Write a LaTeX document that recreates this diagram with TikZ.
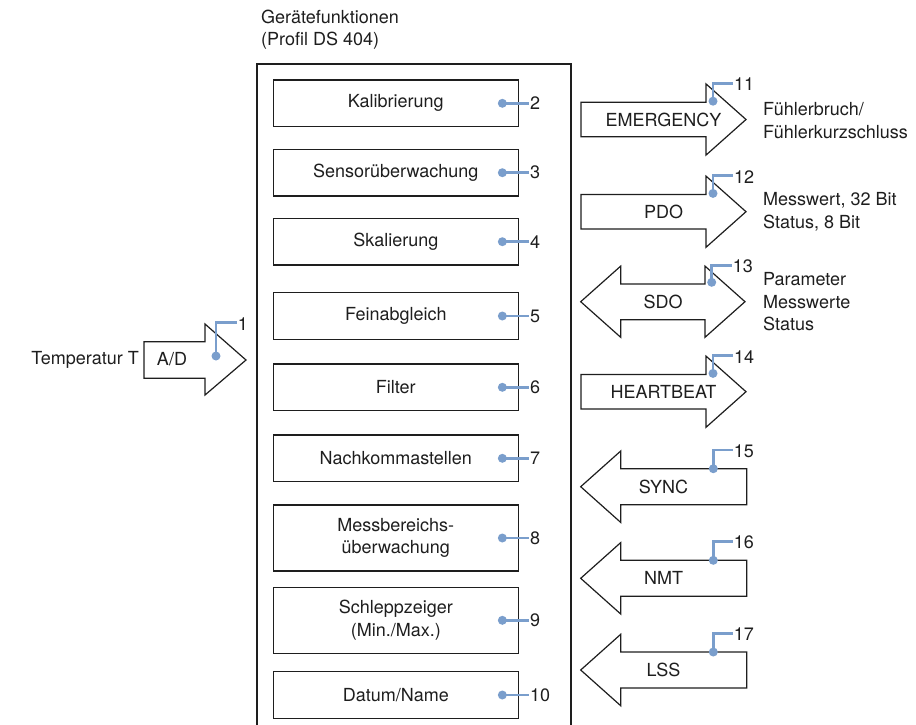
\documentclass[tikz,border=0pt]{standalone}
\usepackage{fontspec}
\setmainfont{TeX Gyre Heros}
\definecolor{cblue}{RGB}{122,158,204}
\definecolor{lk}{RGB}{30,30,30}
\tikzset{
  rarr/.pic={
    \draw[shp] (0,-17.3) -- (125,-17.3) -- (125,-35.6) -- (165,0) -- (125,35.6) -- (125,17.3) -- (0,17.3) -- cycle;
    \coordinate (-dot) at (132,-18.3);
    \coordinate (-end) at (152,-36);
  },
  darr/.pic={
    \draw[shp] (0,0) -- (40,-35.6) -- (40,-17.8) -- (124.3,-17.8) -- (124.3,-35.6) -- (164.3,0) -- (124.3,35.6) -- (124.3,18) -- (40,18) -- (40,35.6) -- cycle;
    \coordinate (-dot) at (131,-19.4);
    \coordinate (-end) at (151,-36);
  },
  larr/.pic={
    \draw[shp] (0,0) -- (40,-35.7) -- (40,-18) -- (166,-18) -- (166,18) -- (40,18) -- (40,35.7) -- cycle;
    \coordinate (-dot) at (132.6,-18);
    \coordinate (-end) at (152,-36.7);
  },
  adarr/.pic={
    \draw[shp] (0,-18.3) -- (61,-18.3) -- (61,-36) -- (102,0) -- (61,35) -- (61,18.3) -- (0,18.3) -- cycle;
    \coordinate (-dot) at (72,-4);
    \coordinate (-end) at (92.7,-37.3);
  }
}
\begin{document}
\begin{tikzpicture}[x=1pt,y=-1pt,
  every node/.style={font=\fontsize{18}{22.5}\selectfont, text=lk},
  fbox/.style={draw=lk, line width=1.3pt, minimum width=245pt, minimum height=46.5pt, inner sep=0pt, align=center},
  tall/.style={minimum height=66pt},
  shp/.style={draw=lk, line width=1.2pt, fill=white, line join=miter},
  frame/.style={draw=lk, line width=1.3pt},
  callout/.style={draw=cblue, line width=2.5pt},
  cdot/.style={fill=cblue},
  num/.style={anchor=west, inner sep=1pt},
  txt/.style={inner sep=0pt, align=left}
]
\useasboundingbox (0,0) rectangle (916,724);

% title
\node[txt, anchor=west] (title) at (261,29.5) {Gerätefunktionen\\(Profil DS 404)};

% outer frame (open at the bottom)
\coordinate (fbl) at (257,730);
\coordinate (ftl) at (257,64);
\coordinate (ftr) at (571,64);
\coordinate (fbr) at (571,730);
\draw[frame] (fbl) -- (ftl) -- (ftr) -- (fbr);

% function boxes
\node[fbox] (b2)  at (395.8,103.3) {Kalibrierung};
\node[fbox] (b3)  at (395.8,172.7) {Sensorüberwachung};
\node[fbox] (b4)  at (395.8,241.7) {Skalierung};
\node[fbox] (b5)  at (395.8,316)   {Feinabgleich};
\node[fbox] (b6)  at (395.8,387.3) {Filter};
\node[fbox] (b7)  at (395.8,458.3) {Nachkommastellen};
\node[fbox,tall] (b8)  at (395.8,538)   {Messbereichs-\\überwachung};
\node[fbox,tall] (b9)  at (395.8,620.3) {Schleppzeiger\\(Min./Max.)};
\node[fbox] (b10) at (395.8,695)   {Datum/Name};

\foreach \b/\n in {b2/2,b3/3,b4/4,b5/5,b6/6,b7/7,b8/8,b9/9,b10/10}{
  \coordinate (\b-dot) at ([xshift=-16.6pt]\b.east);
  \coordinate (\b-end) at ([xshift=10pt]\b.east);
  \draw[callout] (\b-dot) -- (\b-end);
  \fill[cdot] (\b-dot) circle[radius=4.5pt];
  \node[num] (\b-num) at (\b-end) {\n};
}

% input
\node[txt, anchor=east] (temp) at (139,360) {Temperatur T};
\pic (ad) at (144,360) {adarr};
\node (adt) at (172,359) {A/D};
\draw[callout] (ad-dot) |- (ad-end);
\fill[cdot] (ad-dot) circle[radius=4.5pt];
\node[num] (n1) at ([yshift=-1pt]ad-end) {1};

% communication objects
\pic (em) at (581,119.5) {rarr};
\node (emt) at (663.5,119.5) {EMERGENCY};
\pic (pdo) at (581,211.7) {rarr};
\node (pdot) at (663.5,211.7) {PDO};
\pic (sdo) at (580.7,301.7) {darr};
\node (sdot) at (663,301.7) {SDO};
\pic (hb) at (581,391.7) {rarr};
\node (hbt) at (663.5,391.7) {HEARTBEAT};
\pic (sy) at (580.7,486.7) {larr};
\node (syt) at (663.5,486.7) {SYNC};
\pic (nmt) at (580.7,578.3) {larr};
\node (nmtt) at (663.5,578.3) {NMT};
\pic (lss) at (580.7,670) {larr};
\node (lsst) at (663.5,670) {LSS};

\foreach \p/\n in {em/11,pdo/12,sdo/13,hb/14,sy/15,nmt/16,lss/17}{
  \draw[callout] (\p-dot) |- (\p-end);
  \fill[cdot] (\p-dot) circle[radius=4.5pt];
  \node[num] (\p-num) at ([yshift=-1pt]\p-end) {\n};
}

% descriptions
\node[txt, anchor=west] (d11) at (763,120.5) {Fühlerbruch/\\Fühlerkurzschluss};
\node[txt, anchor=west] (d12) at (763,211.7) {Messwert, 32 Bit\\Status, 8 Bit};
\node[txt, anchor=west] (d13) at (763,301.7) {Parameter\\Messwerte\\Status};
\end{tikzpicture}
\end{document}
